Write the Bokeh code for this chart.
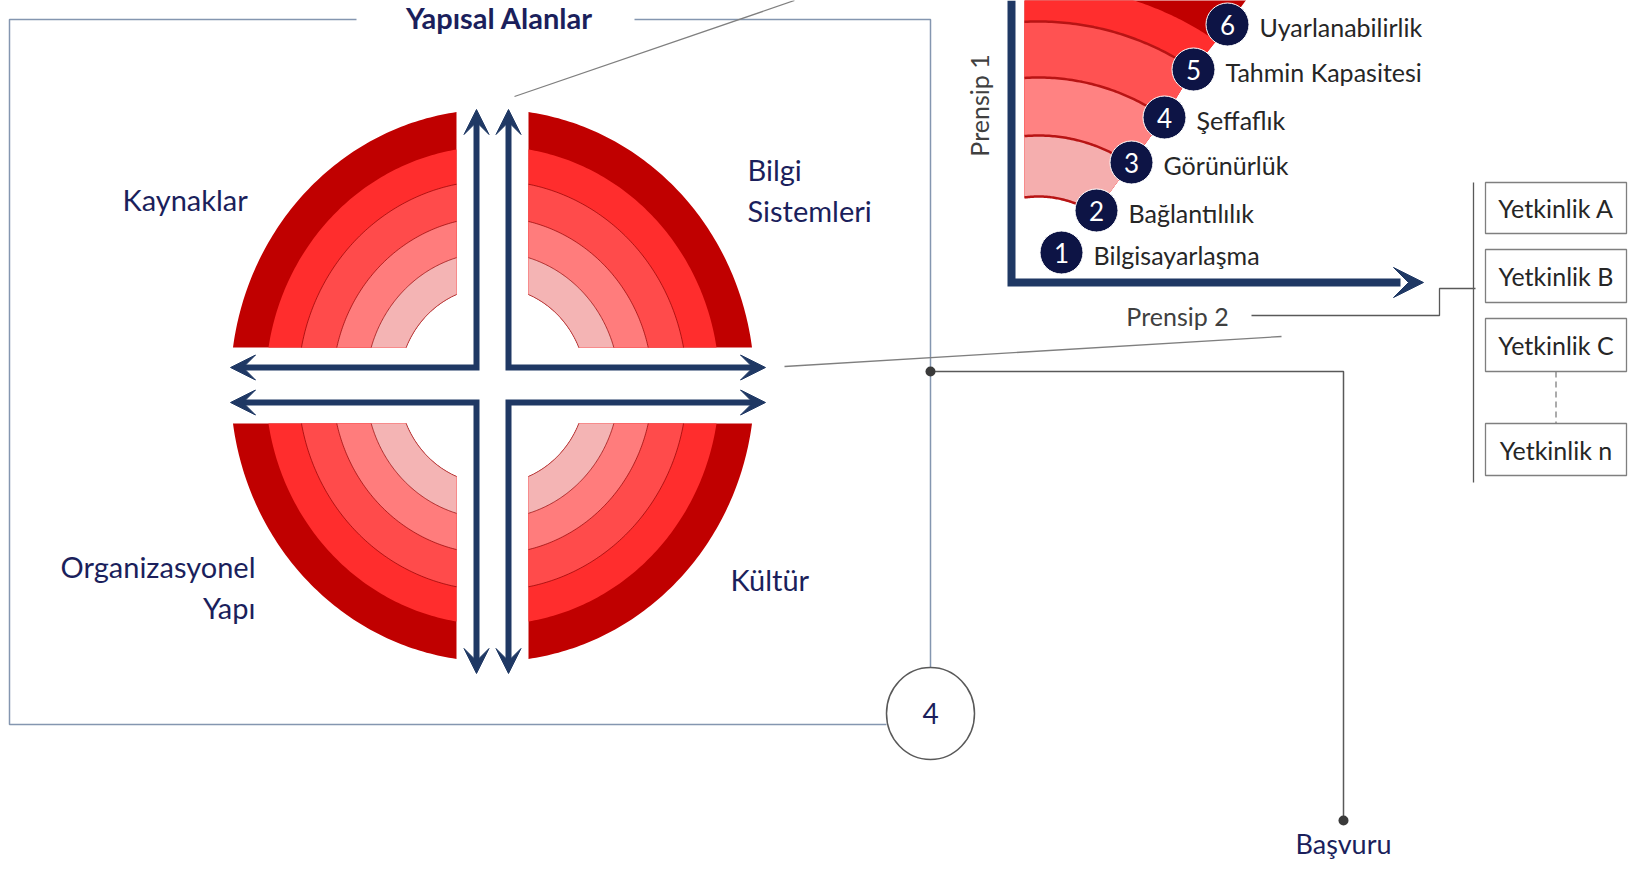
import numpy as np
from bokeh.plotting import figure
from bokeh.models import Range1d, Arrow, VeeHead
from bokeh.core.properties import value
from bokeh.embed import file_html
from bokeh.resources import INLINE

# ---------------- data ----------------
title_text = "Yapısal Alanlar"
quadrant_texts = ["Kaynaklar", "Bilgi", "Sistemleri", "Organizasyonel", "Yapı", "Kültür"]
quadrant_text_x = [122, 747, 747, 255, 255, 730]
quadrant_text_y = [199, 169, 210, 566, 607, 579]
quadrant_text_align = ["left", "left", "left", "right", "right", "left"]

ring_fractions = [1.0, 0.866, 0.742, 0.61, 0.483, 0.357]
ring_colors = ["#C00000", "#FF2D2D", "#FF4B4B", "#FF7C7C", "#F4B4B4"]

step_labels = ["Bilgisayarlaşma", "Bağlantılılık", "Görünürlük", "Şeffaflık",
               "Tahmin Kapasitesi", "Uyarlanabilirlik"]
step_numbers = ["1", "2", "3", "4", "5", "6"]
step_x = [1061, 1096, 1131, 1164, 1193, 1227]
step_y = [252, 210, 162, 117, 69, 24]
arc_radii = [101, 162, 220, 276, 312]
band_colors = ["#F5AEAE", "#FF8282", "#FF5252", "#FF2E2E", "#C00000"]

axis_labels = ["Prensip 1", "Prensip 2"]
competency_labels = ["Yetkinlik A", "Yetkinlik B", "Yetkinlik C", "Yetkinlik n"]
competency_top = [182, 249, 318, 423]
competency_bottom = [233, 302, 371, 475]

box_number = "4"
output_label = "Başvuru"

# ---------------- styling / geometry ----------------
W, H = 1628, 866
NAVY = "#1F3864"
TEXT_NAVY = "#1B1F5C"
DARK = "#262626"
GRAY = "#595959"
FRAME = "#8496B0"
FONT = value("Lato")

CX, CY, RX, RY, GX, GY = 492, 385, 262, 276, 36, 38
OX, OY, FILLX = 1038, 297, 1024
BOX_L, BOX_R = 1485, 1626

p = figure(width=W, height=H, x_range=Range1d(0, W), y_range=Range1d(H, 0),
           output_backend="svg", toolbar_location=None, x_axis_location=None,
           y_axis_location=None, min_border=0, outline_line_color=None)
p.grid.grid_line_color = None
p.background_fill_color = "white"
p.border_fill_color = "white"


def ell_arc(f, sx, sy, reverse=False, n=90):
    t0 = np.arcsin(GY / (RY * f))
    t1 = np.arccos(GX / (RX * f))
    t = np.linspace(t0, t1, n)
    if reverse:
        t = t[::-1]
    return CX + sx * RX * f * np.cos(t), CY + sy * RY * f * np.sin(t)


quads = [(-1, -1), (1, -1), (-1, 1), (1, 1)]
xs, ys, cs = [], [], []
for i, col in enumerate(ring_colors):
    for sx, sy in quads:
        xo, yo = ell_arc(ring_fractions[i], sx, sy)
        xi, yi = ell_arc(ring_fractions[-1], sx, sy, reverse=True)
        xs.append(np.concatenate([xo, xi]))
        ys.append(np.concatenate([yo, yi]))
        cs.append(col)
p.patches(xs, ys, fill_color=cs, line_color=None)

lx, ly = [], []
for f in ring_fractions[2:]:
    for sx, sy in quads:
        a, b = ell_arc(f, sx, sy)
        lx.append(a)
        ly.append(b)
p.multi_line(lx, ly, line_color="#8B0000", line_width=0.8, line_alpha=0.85)

# cross arrows (L shapes)
arms = [(476, 367, 109, 230), (508, 367, 109, 765), (476, 402, 673, 230), (508, 402, 673, 765)]
for vx, hy, vtip, htip in arms:
    hs = htip + (8 if htip < vx else -8)
    vs = vtip + (8 if vtip < hy else -8)
    p.line([hs, vx, vx], [hy, hy, vs], line_color=NAVY, line_width=6, line_join="miter")
    for xs0, ys0, xe, ye in [(vx, hy, htip, hy), (vx, hy, vx, vtip)]:
        p.add_layout(Arrow(x_start=xs0, y_start=ys0, x_end=xe, y_end=ye, line_alpha=0,
                           end=VeeHead(size=25, fill_color=NAVY, line_color=NAVY, line_width=1)))

p.text(x=quadrant_text_x, y=quadrant_text_y, text=quadrant_texts, text_align=quadrant_text_align,
       text_baseline="middle", text_font=FONT, text_font_size="29px", text_color=TEXT_NAVY)

# frame around structural domains
p.line([356, 9, 9, 886], [19, 19, 724, 724], line_color=FRAME, line_width=1.5)
p.line([634, 930, 930], [19, 19, 667], line_color=FRAME, line_width=1.5)
p.text(x=[499], y=[17], text=[title_text], text_align="center", text_baseline="middle",
       text_font=FONT, text_font_size="29px", text_font_style="bold", text_color=TEXT_NAVY)
p.ellipse(x=[930], y=[713], width=88, height=92, fill_color="white", line_color=GRAY, line_width=1.5)
p.text(x=[930], y=[713], text=[box_number], text_align="center", text_baseline="middle",
       text_font=FONT, text_font_size="28px", text_color=TEXT_NAVY)

# connectors
p.line([514, 794], [96, 0], line_color="#7F7F7F", line_width=1.3)
p.line([784, 1281], [366, 336], line_color="#7F7F7F", line_width=1.3)
p.line([930, 1343, 1343], [371, 371, 820], line_color=GRAY, line_width=1.5)
p.scatter([930, 1343], [371, 820], size=10, fill_color="#3A3A3A", line_color=None)
p.text(x=[1343], y=[843], text=[output_label], text_align="center", text_baseline="middle",
       text_font=FONT, text_font_size="27px", text_color=TEXT_NAVY)

# inset bands
def inset_theta_axis(r):
    return np.arccos((FILLX - OX) / r)


def inset_theta_marker(mx, my):
    return np.arctan2(OY - my, mx - OX)


ext_x = 2 * step_x[5] - step_x[4]
ext_y = 2 * step_y[5] - step_y[4]
radii = arc_radii + [400]
ends = [(step_x[k + 1], step_y[k + 1]) for k in range(5)] + [(ext_x, ext_y)]
thetas = [inset_theta_marker(mx, my) for mx, my in ends]
end_pts = [(OX + r * np.cos(t), OY - r * np.sin(t)) for r, t in zip(radii, thetas)]

bx, by, bc = [], [], []
for j in range(4, -1, -1):
    r_out = radii[j + 1]
    th = np.linspace(inset_theta_axis(r_out), thetas[j + 1], 80)
    px = list(OX + r_out * np.cos(th))
    py = list(OY - r_out * np.sin(th))
    for k in range(j, 0, -1):
        px.append(end_pts[k][0])
        py.append(end_pts[k][1])
    th0 = np.linspace(thetas[0], inset_theta_axis(radii[0]), 60)
    px += list(OX + radii[0] * np.cos(th0))
    py += list(OY - radii[0] * np.sin(th0))
    bx.append(px)
    by.append(py)
    bc.append(band_colors[j])
p.patches(bx, by, fill_color=bc, line_color=None)

ax_, ay_ = [], []
for k in range(4):
    th = np.linspace(inset_theta_axis(radii[k]), thetas[k], 60)
    ax_.append(OX + radii[k] * np.cos(th))
    ay_.append(OY - radii[k] * np.sin(th))
p.multi_line(ax_, ay_, line_color="#B81414", line_width=2.5)

# inset axes
p.line([1011, 1011, 1400], [0, 282, 282], line_color=NAVY, line_width=8, line_join="miter")
p.add_layout(Arrow(x_start=1380, y_start=282, x_end=1423, y_end=282, line_alpha=0,
                   end=VeeHead(size=30, fill_color=NAVY, line_color=NAVY, line_width=1)))
p.text(x=[978], y=[105], text=[axis_labels[0]], angle=np.pi / 2, text_align="center",
       text_baseline="middle", text_font=FONT, text_font_size="25px", text_color="#404040")
p.text(x=[1177], y=[315], text=[axis_labels[1]], text_align="center",
       text_baseline="middle", text_font=FONT, text_font_size="25px", text_color="#404040")

p.scatter(step_x, step_y, size=43, fill_color="#0D1445", line_color="white", line_width=1)
p.text(x=step_x, y=step_y, text=step_numbers, text_align="center", text_baseline="middle",
       text_font=FONT, text_font_size="26px", text_color="white")
p.text(x=[v + 32 for v in step_x], y=[v + 2 for v in step_y], text=step_labels,
       text_align="left", text_baseline="middle", text_font=FONT, text_font_size="25px",
       text_color=DARK)

# competencies
p.line([1251, 1439, 1439, 1475], [315, 315, 288, 288], line_color=GRAY, line_width=1.3)
p.line([1473, 1473], [182, 482], line_color=GRAY, line_width=1.3)
p.quad(left=BOX_L, right=BOX_R, top=competency_top, bottom=competency_bottom,
       fill_color="white", line_color="#7F7F7F", line_width=1.3)
BOX_C = (BOX_L + BOX_R) / 2
p.line([BOX_C, BOX_C], [competency_bottom[2], competency_top[3]], line_color="#7F7F7F",
       line_width=1.3, line_dash="6 4")
p.text(x=[BOX_C] * 4, y=[(t + b) / 2 for t, b in zip(competency_top, competency_bottom)],
       text=competency_labels, text_align="center", text_baseline="middle", text_font=FONT,
       text_font_size="25px", text_color=DARK)

open("out.html", "w").write(file_html(p, INLINE))
